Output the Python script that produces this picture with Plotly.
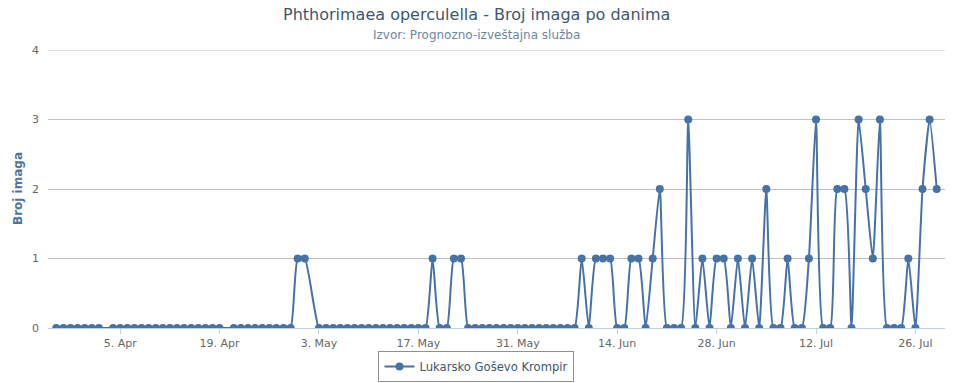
import pandas as pd
import plotly.graph_objects as go

# Daily counts from 27 Mar to 29 Jul (None = day without a measurement)
start_date = "2021-03-27"
end_date = "2021-07-29"
counts = [
    0, 0, 0, 0, 0, 0, 0,            # 27 Mar - 2 Apr
    None,                           # 3 Apr
    0, 0, 0, 0, 0, 0, 0, 0, 0, 0, 0, 0, 0, 0, 0, 0,  # 4 - 19 Apr
    None,                           # 20 Apr
    0, 0, 0, 0, 0, 0, 0, 0, 0,      # 21 - 29 Apr
    1, 1,                           # 30 Apr, 1 May
    None,                           # 2 May
    0, 0, 0, 0, 0, 0, 0, 0, 0, 0, 0, 0, 0, 0, 0, 0,  # 3 - 18 May
    1, 0, 0, 1, 1,                  # 19 - 23 May
    0, 0, 0, 0, 0, 0, 0, 0, 0, 0, 0, 0, 0, 0, 0, 0,  # 24 May - 8 Jun
    1, 0, 1, 1, 1, 0, 0, 1, 1, 0, 1, 2, 0, 0, 0, 3,  # 9 - 24 Jun
    0, 1, 0, 1, 1, 0, 1, 0, 1, 0, 2, 0, 0, 1, 0, 0,  # 25 Jun - 10 Jul
    1, 3, 0, 0, 2, 2, 0, 3, 2, 1, 3, 0, 0, 0, 1, 0,  # 11 - 26 Jul
    2, 3, 2,                        # 27 - 29 Jul
]
dates = pd.date_range(start_date, end_date, freq="D")
y_ticks = [0, 1, 2, 3, 4]
series_name = "Lukarsko Goševo Krompir"
title_text = "Phthorimaea operculella - Broj imaga po danima"
subtitle_text = "Izvor: Prognozno-izveštajna služba"
y_title = "Broj imaga"

FONT = "DejaVu Sans, Verdana, sans-serif"

fig = go.Figure()
fig.add_trace(go.Scatter(
    x=dates, y=counts, name=series_name, mode="lines+markers",
    connectgaps=True,
    line=dict(color="#4572A7", width=2, shape="spline", smoothing=0.5),
    marker=dict(color="#4572A7", size=8, symbol="circle"),
))

x_lo = pd.Timestamp(start_date) - pd.Timedelta(hours=28)
x_hi = pd.Timestamp(end_date) + pd.Timedelta(hours=28)

fig.update_layout(
    width=953, height=383,
    margin=dict(l=48, r=8, t=50, b=55, autoexpand=False),
    paper_bgcolor="white", plot_bgcolor="white",
    font=dict(family=FONT, size=11, color="#666666"),
    showlegend=True,
    legend=dict(
        orientation="h", x=0.4777, xanchor="center", y=-0.083, yanchor="top",
        bordercolor="#909090", borderwidth=1, itemwidth=30,
        font=dict(family=FONT, size=11.6, color="#3E576F"),
    ),
    xaxis=dict(
        type="date", range=[x_lo, x_hi], automargin=False,
        tick0="2021-04-05", dtick=14 * 86400000, tickformat="%-d. %b",
        showgrid=False, showline=True, linecolor="#C0D0E0", linewidth=1,
        ticks="outside", ticklen=5, tickcolor="#C0D0E0",
        tickfont=dict(family=FONT, size=11, color="#666666"),
        zeroline=False,
    ),
    yaxis=dict(
        range=[0, 4], tickvals=y_ticks, automargin=False,
        showgrid=True, gridcolor="#C0C0C0", gridwidth=1,
        zeroline=False, showline=False, ticks="",
        ticklabelstandoff=8,
        tickfont=dict(family=FONT, size=11, color="#666666"),
    ),
    annotations=[
        dict(text=title_text, xref="paper", yref="paper", x=0.4777, y=1,
             xanchor="center", yanchor="bottom", yshift=24, showarrow=False,
             font=dict(family=FONT, size=16, color="#3E576F")),
        dict(text=subtitle_text, xref="paper", yref="paper", x=0.4777, y=1,
             xanchor="center", yanchor="bottom", yshift=6, showarrow=False,
             font=dict(family=FONT, size=12, color="#6D869F")),
        dict(text="<b>" + y_title + "</b>", xref="paper", yref="paper",
             x=0, y=0.5, xanchor="center", yanchor="middle", xshift=-30,
             textangle=-90, showarrow=False,
             font=dict(family=FONT, size=12, color="#4D759E")),
    ],
)
# top gridline (plotly skips the grid line lying on the plot edge)
fig.add_hline(y=max(y_ticks), line=dict(color="#C0C0C0", width=1), layer="below")

fig.write_html(
    "out.html",
    config={"displayModeBar": False},
    post_script="document.body.style.margin='0';document.body.style.overflow='hidden';",
)
